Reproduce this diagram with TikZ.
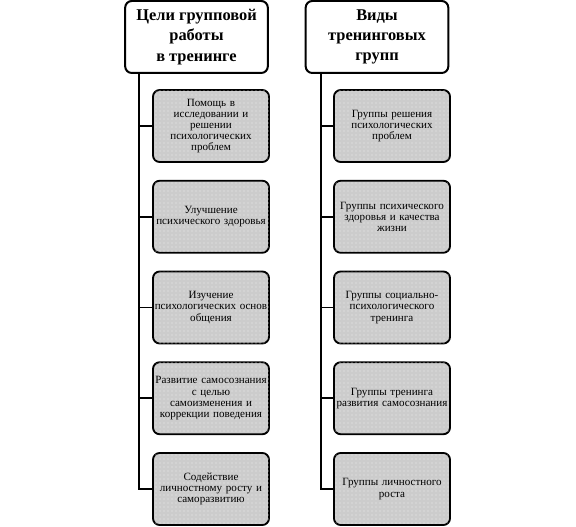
\documentclass[tikz,border=0pt]{standalone}
\usepackage{fontspec}
\setmainfont{Liberation Serif}
\usetikzlibrary{patterns}
\tikzset{
  head/.style={draw,line width=1.5pt,rounded corners=5pt,fill=white,minimum width=107pt,minimum height=54pt,align=center,font=\fontsize{12.3}{15.2}\selectfont\bfseries},
  item/.style={draw,line width=1.4pt,rounded corners=5pt,fill=gray!40,postaction={pattern=dots,pattern color=white!85!gray},minimum width=87pt,minimum height=54pt,inner xsep=0pt,text width=87pt,align=center,font=\fontsize{8.3}{8.4}\selectfont},
  conn/.style={line width=1.4pt}
}
\begin{document}
\begin{tikzpicture}[x=0.75pt,y=-0.75pt]
\useasboundingbox(0,0)rectangle(576,527);
% headers
\node[head](l0)at(196.5,37){Цели групповой\\работы\\в тренинге};
\node[head](r0)at(377,37){Виды\\тренинговых\\групп};
% goals
\foreach \t [count=\i] in {Помощь в\\исследовании и\\решении\\психологических\\проблем,
  Улучшение\\психического здоровья,
  Изучение\\психологических основ\\общения,
  Развитие самосознания\\с целью\\самоизменения и\\коррекции поведения,
  Содействие\\личностному росту и\\саморазвитию}
{\node[item](l\i)at(211,{126+90.75*(\i-1)}){\t};
 \draw[conn]([xshift=11.25pt]l0.south west)|-(l\i.west);}
% kinds of groups
\foreach \t [count=\i] in {Группы решения\\психологических\\проблем,
  Группы психического\\здоровья и качества\\жизни,
  Группы социально-\\психологического\\тренинга,
  Группы тренинга\\развития самосознания,
  Группы личностного\\роста}
{\node[item](r\i)at(392,{126+90.75*(\i-1)}){\t};
 \draw[conn]([xshift=12pt]r0.south west)|-(r\i.west);}
\end{tikzpicture}
\end{document}
